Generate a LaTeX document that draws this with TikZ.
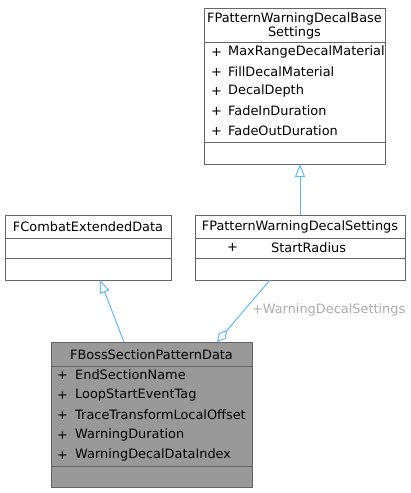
\documentclass[tikz,border=0pt]{standalone}
\usepackage{fontspec}
\setmainfont{DejaVu Sans}
\usepackage{tikz}
\usetikzlibrary{calc, arrows.meta}
\usetikzlibrary{positioning}

\definecolor{boxgray}{HTML}{666666}
\definecolor{bossfill}{HTML}{999999}
\definecolor{edgeblue}{HTML}{63B8FF}
\definecolor{labelgray}{HTML}{ABABAB}

\tikzset{
  umlbox/.style={draw=boxgray, line width=1pt, rectangle, inner sep=0pt, outer sep=0pt},
  seprule/.style={draw=boxgray, line width=1pt},
  member/.style={anchor=west, inner sep=0pt, font=\fontsize{12.9pt}{15pt}\selectfont},
  title/.style={anchor=center, inner sep=0pt, align=center, font=\fontsize{12.9pt}{15pt}\selectfont},
  inherit/.style={draw=edgeblue, line width=1pt, -{Triangle[open, length=13pt, width=10pt]}},
  aggr/.style={draw=edgeblue, line width=1pt, -{Diamond[open, length=16pt, width=9pt]}},
}

\begin{document}
\begin{tikzpicture}[x=1pt, y=-1pt]
            \useasboundingbox (0,0) rectangle (411,493);

            % base settings class
            \node[umlbox, minimum width=181pt, minimum height=156pt] (base) at (294.5,86) {};
            \node[title, anchor=base] (baset) at (294.5,22) {FPatternWarningDecalBase};
            \node[title, anchor=base] (basets) at (294.5,36) {Settings};
            \draw[seprule] (204,42) -- (385,42);
            \draw[seprule] (204,142) -- (385,142);
            \foreach \y/\name in {52/MaxRangeDecalMaterial, 72/FillDecalMaterial, 91/DecalDepth, 111/FadeInDuration, 131/FadeOutDuration} {
                \node[member] at (211,\y) {+};
                \node[member] at (228,\y) {\name};
            }

            % combat data class
            \node[umlbox, minimum width=166pt, minimum height=65pt] (combat) at (88,247.5) {};
            \node[title] (combatt) at (88,226.5) {FCombatExtendedData};
            \draw[seprule] (5,238) -- (171,238);
            \draw[seprule] (5,258) -- (171,258);

            % warning decal settings class
            \node[umlbox, minimum width=210pt, minimum height=65pt] (warn) at (300,247.5) {};
            \node[title] (warnt) at (300,226.5) {FPatternWarningDecalSettings};
            \draw[seprule] (195,238) -- (405,238);
            \draw[seprule] (195,258) -- (405,258);
            \node[member] at (227,247.5) {+};
            \node[member] at (271,247.5) {StartRadius};

            % boss pattern class
            \node[umlbox, fill=bossfill, minimum width=201pt, minimum height=145pt] (boss) at (151.5,414.5) {};
            \node[title] (bosst) at (151.5,355) {FBossSectionPatternData};
            \draw[seprule] (51,366) -- (252,366);
            \draw[seprule] (51,466) -- (252,466);
            \foreach \y/\name in {375/EndSectionName, 395/LoopStartEventTag, 415/TraceTransformLocalOffset, 435/WarningDuration, 455/WarningDecalDataIndex} {
                \node[member] at (57,\y) {+};
                \node[member] at (75,\y) {\name};
            }

            % relations
            \draw[inherit] (warn.north) -- (warn.north |- base.south);
            \draw[inherit] ([xshift=73pt]boss.north west) -- ([xshift=95pt]combat.south west);
            \draw[aggr] ([xshift=75pt]warn.south west) -- ([xshift=166pt]boss.north west)
                node[pos=0.48, right=7pt, inner sep=0pt, text=labelgray, font=\fontsize{12.9pt}{15pt}\selectfont] (aggrl) {+WarningDecalSettings};
        \end{tikzpicture}
\end{document}
